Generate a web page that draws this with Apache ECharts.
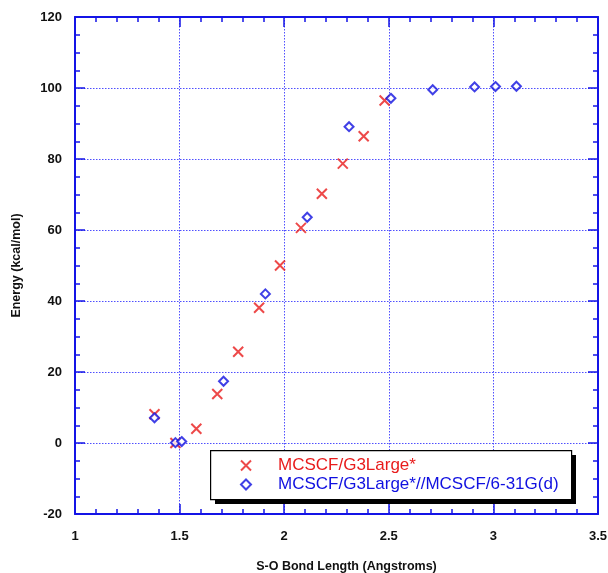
<!DOCTYPE html>
<html>
<head>
<meta charset="utf-8">
<script src="https://cdn.jsdelivr.net/npm/echarts@6/dist/echarts.min.js"></script>
<style>
  html, body { margin: 0; padding: 0; background: #fff; }
  #chart { width: 608px; height: 573px; }
</style>
</head>
<body>
<div id="chart"></div>
<script>
// MCSCF/G3Large* (red crosses)
const redX = [1.38, 1.48, 1.58, 1.68, 1.78, 1.88, 1.98, 2.08, 2.18, 2.28, 2.38, 2.48];
const redY = [8.1, 0, 4.0, 13.8, 25.7, 38.1, 50.0, 60.6, 70.2, 78.7, 86.4, 96.5];
// MCSCF/G3Large*//MCSCF/6-31G(d) (blue diamonds)
const blueX = [1.38, 1.48, 1.51, 1.71, 1.91, 2.11, 2.31, 2.51, 2.71, 2.91, 3.01, 3.11];
const blueY = [7.1, 0.1, 0.4, 17.4, 42.0, 63.6, 89.1, 97.1, 99.5, 100.3, 100.4, 100.5];

const seriesNames = ['MCSCF/G3Large*', 'MCSCF/G3Large*//MCSCF/6-31G(d)'];
const xLabel = 'S-O Bond Length (Angstroms)';
const yLabel = 'Energy (kcal/mol)';

const AXIS_BLUE = '#1414e6';
const GRID_BLUE = '#4f4fff';
const RED = '#e81c1c';
const BLUE = '#1010e0';
const FONT = 'Liberation Sans, Arial, Helvetica, sans-serif';

const pairs = (xs, ys) => xs.map((x, i) => [x, ys[i]]);

// box drawn on all four sides, ticks pointing inward
function frameAxis(minorSplit) {
  return {
    axisLine: { show: true, onZero: false, lineStyle: { color: AXIS_BLUE, width: 2 } },
    axisTick: { show: true, inside: true, length: 10, lineStyle: { color: AXIS_BLUE, width: 1.5 } },
    minorTick: { show: true, splitNumber: minorSplit, length: 5, lineStyle: { color: AXIS_BLUE, width: 1.5 } },
  };
}

const chart = echarts.init(document.getElementById('chart'), null, { renderer: 'canvas' });

chart.setOption({
  backgroundColor: '#fff',
  animation: false,
  grid: { left: 75, right: 10, top: 17, bottom: 59, outerBoundsMode: 'none', containLabel: false },
  xAxis: [
    Object.assign({
      type: 'value', min: 1, max: 3.5, interval: 0.5,
      name: xLabel, nameLocation: 'middle', nameGap: 46,
      nameTextStyle: { fontFamily: FONT, fontWeight: 'bold', fontSize: 12.5, color: '#111', padding: [0, 0, 0, 20] },
      axisLabel: { margin: 16, fontFamily: FONT, fontWeight: 'bold', fontSize: 13, color: '#111' },
      splitLine: { show: true, lineStyle: { color: GRID_BLUE, type: [1.5, 1.5], width: 1 } },
    }, frameAxis(5)),
    Object.assign({
      type: 'value', min: 1, max: 3.5, interval: 0.5, position: 'top',
      axisLabel: { show: false }, splitLine: { show: false },
    }, frameAxis(5)),
  ],
  yAxis: [
    Object.assign({
      type: 'value', min: -20, max: 120, interval: 20,
      name: yLabel, nameLocation: 'middle', nameGap: 52, nameRotate: 90,
      nameTextStyle: { fontFamily: FONT, fontWeight: 'bold', fontSize: 12.5, color: '#111' },
      axisLabel: { margin: 13, fontFamily: FONT, fontWeight: 'bold', fontSize: 13, color: '#111' },
      splitLine: { show: true, lineStyle: { color: GRID_BLUE, type: [1.5, 1.5], width: 1 } },
    }, frameAxis(4)),
    Object.assign({
      type: 'value', min: -20, max: 120, interval: 20, position: 'right',
      axisLabel: { show: false }, splitLine: { show: false },
    }, frameAxis(4)),
  ],
  // legend box with hard black drop shadow
  graphic: [
    { type: 'rect', left: 215, top: 455, z: 10, shape: { width: 361, height: 49 }, style: { fill: '#000' } },
    { type: 'rect', left: 210, top: 450, z: 11, shape: { width: 361, height: 49 }, style: { fill: '#fff', stroke: '#000', lineWidth: 1.2 } },
  ],
  legend: {
    orient: 'vertical',
    left: 210, top: 450, z: 12,
    padding: [7, 9, 8, 30],
    itemGap: 2,
    itemWidth: 10, itemHeight: 10,
    textStyle: { fontFamily: FONT, fontSize: 17, lineHeight: 16, padding: [0, 0, 0, 22] },
    data: [
      { name: seriesNames[0], textStyle: { color: RED } },
      { name: seriesNames[1], textStyle: { color: BLUE } },
    ],
  },
  series: [
    {
      name: seriesNames[0], type: 'scatter',
      xAxisIndex: 0, yAxisIndex: 0,
      symbol: 'path://M0,0L10,10M10,0L0,10', symbolSize: 10,
      itemStyle: { color: 'rgba(0,0,0,0)', borderColor: RED, borderWidth: 2 },
      data: pairs(redX, redY),
    },
    {
      name: seriesNames[1], type: 'scatter',
      xAxisIndex: 0, yAxisIndex: 0,
      symbol: 'diamond', symbolSize: 9,
      itemStyle: { color: '#fff', borderColor: BLUE, borderWidth: 2 },
      data: pairs(blueX, blueY),
    },
  ],
});
</script>
</body>
</html>
